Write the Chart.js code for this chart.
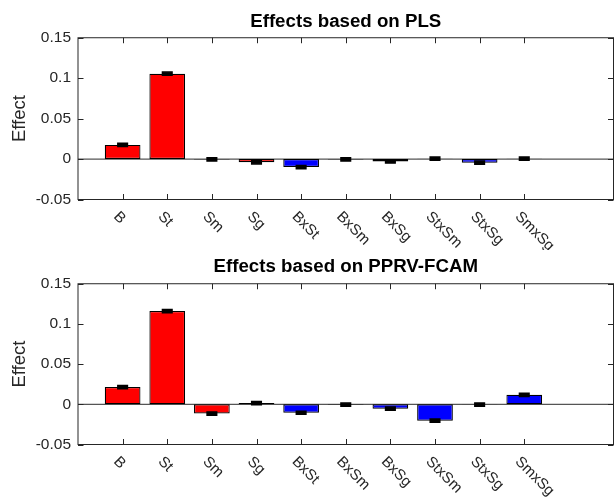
<!DOCTYPE html>
<html>
<head>
<meta charset="utf-8">
<script src="https://cdn.jsdelivr.net/npm/chart.js@4"></script>
<style>
  html, body { margin: 0; padding: 0; background: #fff; }
  .panel { position: absolute; left: 0; width: 615px; }
  #top_panel { top: 0; height: 250px; }
  #bottom_panel { top: 250px; height: 251px; }
</style>
</head>
<body>
<div class="panel" id="top_panel"><canvas id="pls_chart"></canvas></div>
<div class="panel" id="bottom_panel"><canvas id="pprv_chart"></canvas></div>
<script>
// factores y sus interacciones
const categories = ['B', 'St', 'Sm', 'Sg', 'BxSt', 'BxSm', 'BxSg', 'StxSm', 'StxSg', 'SmxSg'];
const yTicks = [-0.05, 0, 0.05, 0.1, 0.15];

// efectos estimados (PLS)
const plsEffects = [0.0175, 0.1055, -0.0005, -0.004, -0.0099, -0.0005, -0.003, 0.0005, -0.0045, 0.0005];
const plsErrors = [0.002, 0.002, 0.002, 0.002, 0.002, 0.002, 0.002, 0.002, 0.002, 0.002];

// efectos estimados (PPRV-FCAM)
const pprvEffects = [0.0215, 0.116, -0.0115, 0.0015, -0.0105, -0.0005, -0.0055, -0.0203, -0.0003, 0.0118];
const pprvErrors = [0.002, 0.002, 0.002, 0.002, 0.002, 0.002, 0.002, 0.002, 0.002, 0.002];

const AXIS_COLOR = '#262626';
const FONT = '"Liberation Sans", Arial, Helvetica, sans-serif';
Chart.defaults.font.family = FONT;
Chart.defaults.color = AXIS_COLOR;

const matlabAxes = {
  id: 'matlabAxes',
  beforeDatasetsDraw(chart) {
    const { ctx, chartArea } = chart;
    const y0 = chart.scales.y.getPixelForValue(0);
    ctx.save();
    ctx.strokeStyle = '#555';
    ctx.lineWidth = 1.3;
    ctx.beginPath();
    ctx.moveTo(chartArea.left, y0);
    ctx.lineTo(chartArea.right, y0);
    ctx.stroke();
    ctx.restore();
  },
  afterDatasetsDraw(chart) {
    const { ctx } = chart;
    const ds = chart.data.datasets[0];
    const meta = chart.getDatasetMeta(0);
    const yScale = chart.scales.y;
    ctx.save();
    ctx.strokeStyle = '#000';
    ctx.fillStyle = '#000';
    ctx.lineWidth = 1.5;
    meta.data.forEach((bar, i) => {
      const v = ds.data[i].y;
      const e = ds.errors[i];
      const yHi = yScale.getPixelForValue(v + e);
      const yLo = yScale.getPixelForValue(v - e);
      const half = 4.8;
      ctx.beginPath();
      ctx.rect(bar.x - half, yHi, half * 2, yLo - yHi);
      ctx.fill();
      ctx.stroke();
    });
    ctx.restore();
  },
  afterDraw(chart) {
    const { ctx, chartArea } = chart;
    const { left, right, top, bottom } = chartArea;
    const xScale = chart.scales.x;
    const yScale = chart.scales.y;
    const tick = 5.5;
    ctx.save();
    ctx.strokeStyle = AXIS_COLOR;
    ctx.lineWidth = 1;
    ctx.strokeRect(left, top, right - left, bottom - top);
    ctx.beginPath();
    categories.forEach((c, i) => {
      const x = Math.round(xScale.getPixelForValue(i + 1)) + 0.5;
      ctx.moveTo(x, bottom); ctx.lineTo(x, bottom - tick);
      ctx.moveTo(x, top); ctx.lineTo(x, top + tick);
    });
    yTicks.forEach(v => {
      const y = Math.round(yScale.getPixelForValue(v)) + 0.5;
      ctx.moveTo(left, y); ctx.lineTo(left + tick, y);
      ctx.moveTo(right, y); ctx.lineTo(right - tick, y);
    });
    ctx.stroke();

    // etiquetas del eje x giradas 45 grados
    ctx.fillStyle = AXIS_COLOR;
    ctx.font = '15px ' + FONT;
    ctx.textAlign = 'left';
    ctx.textBaseline = 'top';
    categories.forEach((c, i) => {
      const x = xScale.getPixelForValue(i + 1);
      ctx.save();
      ctx.translate(x - 1.5, bottom + 9.5);
      ctx.rotate(Math.PI / 4);
      ctx.fillText(c, 0, 0);
      ctx.restore();
    });
    ctx.restore();
  }
};

function drawEffects(canvasId, titleText, effects, errors, layout) {
  const points = effects.map((v, i) => ({ x: i + 1, y: v }));
  const colors = categories.map(c => (c.includes('x') ? '#0000ff' : '#ff0000'));

  return new Chart(document.getElementById(canvasId), {
    type: 'bar',
    data: {
      datasets: [{
        data: points,
        errors: errors,
        backgroundColor: colors,
        borderColor: '#000',
        borderWidth: 1.2,
        borderSkipped: false,
        barPercentage: 0.8,
        categoryPercentage: 1
      }]
    },
    options: {
      responsive: true,
      maintainAspectRatio: false,
      animation: false,
      events: [],
      layout: { padding: { left: 0, right: 1.5, top: 0, bottom: 0 } },
      scales: {
        x: {
          type: 'linear',
          min: 0,
          max: 12,
          offset: false,
          grid: { display: false },
          border: { display: false },
          ticks: { display: false },
          afterFit: s => { s.height = layout.xHeight; }
        },
        y: {
          min: -0.05,
          max: 0.15,
          grid: { display: false, drawTicks: false },
          border: { display: false },
          afterBuildTicks: s => { s.ticks = yTicks.map(v => ({ value: v })); },
          ticks: {
            padding: 7,
            font: { size: 15.5 },
            callback: v => String(+v.toFixed(2))
          },
          title: {
            display: true,
            text: 'Effect',
            font: { size: 18.5, lineHeight: 1.2 },
            padding: { top: 8.6, bottom: 0 }
          },
          afterFit: s => { s.width = 78; }
        }
      },
      plugins: {
        legend: { display: false },
        tooltip: { enabled: false },
        title: {
          display: true,
          fullSize: false,
          text: titleText,
          color: '#000',
          font: { size: 18.7, weight: 'bold', lineHeight: 1.2 },
          padding: layout.titlePad
        }
      }
    },
    plugins: [matlabAxes]
  });
}

drawEffects('pls_chart', 'Effects based on PLS', plsEffects, plsErrors,
  { xHeight: 50.5, titlePad: { top: 10.6, bottom: 4.7 } });
drawEffects('pprv_chart', 'Effects based on PPRV-FCAM', pprvEffects, pprvErrors,
  { xHeight: 56.5, titlePad: { top: 5.6, bottom: 5.7 } });
</script>
</body>
</html>
